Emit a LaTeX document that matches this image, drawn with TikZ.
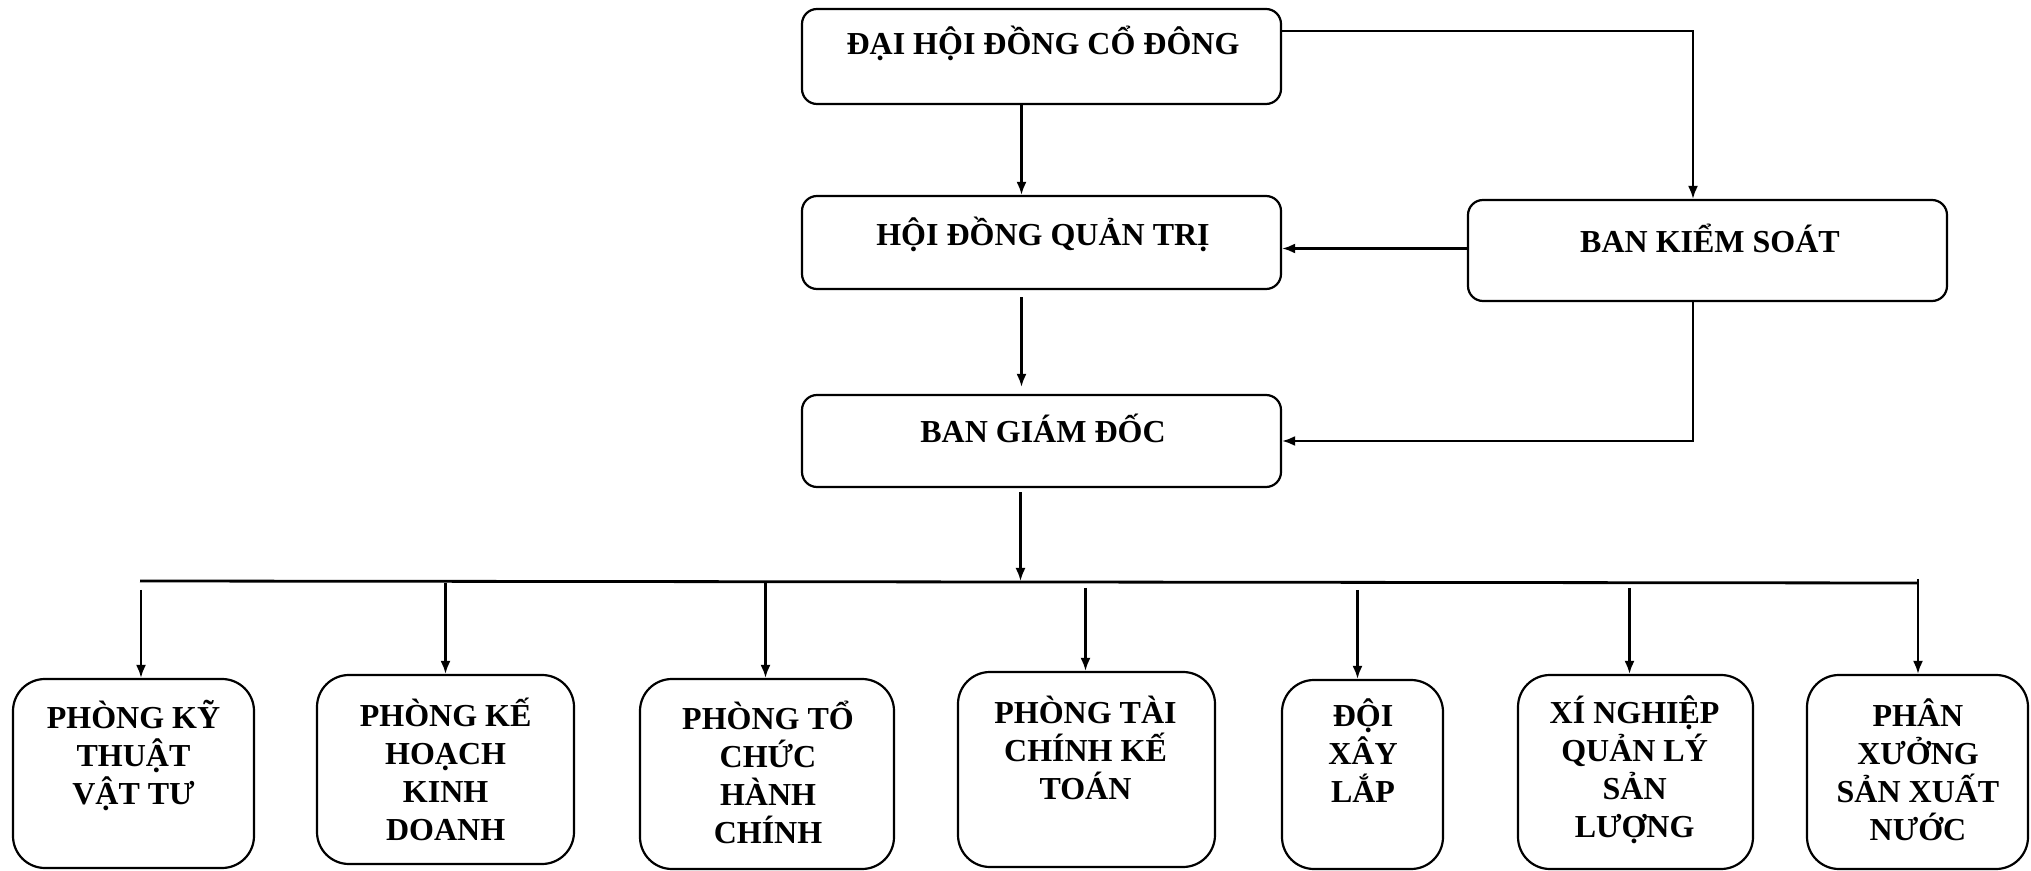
\documentclass[tikz,border=0pt]{standalone}
\usepackage{fontspec}
\setmainfont{Liberation Serif}
\usetikzlibrary{arrows.meta}
\begin{document}
\begin{tikzpicture}[x=0.5pt,y=-0.5pt,
  topbox/.style={draw, line width=1.1pt, rounded corners=7.5pt, minimum width=239.5pt, inner sep=0pt},
  botbox/.style={draw, line width=1.1pt, rounded corners=16pt, inner sep=0pt},
  lbl/.style={font=\bfseries\fontsize{16}{19}\selectfont, align=center, inner sep=0pt},
  arr/.style={line width=1.1pt, -{Latex[length=6.5pt,width=5pt]}},
  conn/.style={line width=1.1pt}]
\useasboundingbox (0,0) rectangle (2031,871);
% top level boxes
\node[topbox, minimum height=47.5pt] (dh) at (1041.5,56.5) {};
\node[topbox, minimum height=46.5pt] (hd) at (1041.5,242.5) {};
\node[topbox, minimum height=46pt] (bgd) at (1041.5,441) {};
\node[topbox, minimum height=50.5pt] (bks) at (1707.5,250.5) {};
\node[lbl] at (1043,43) {ĐẠI HỘI ĐỒNG CỔ ĐÔNG};
\node[lbl] at (1043,234.5) {HỘI ĐỒNG QUẢN TRỊ};
\node[lbl] at (1043,428.7) {BAN GIÁM ĐỐC};
\node[lbl] at (1710,238) {BAN KIỂM SOÁT};
% bottom boxes
\node[botbox, minimum width=120.5pt, minimum height=94.5pt] (b1) at (133.5,773.5) {};
\node[botbox, minimum width=128.5pt, minimum height=94.5pt] (b2) at (445.5,769.5) {};
\node[botbox, minimum width=127pt, minimum height=95pt] (b3) at (767,774) {};
\node[botbox, minimum width=128.5pt, minimum height=97.5pt] (b4) at (1086.5,769.5) {};
\node[botbox, minimum width=80.5pt, minimum height=94.5pt] (b5) at (1362.5,774.5) {};
\node[botbox, minimum width=117.5pt, minimum height=97pt] (b6) at (1635.5,772) {};
\node[botbox, minimum width=110.5pt, minimum height=97pt] (b7) at (1917.5,772) {};
\node[lbl] at (133.5,755) {PHÒNG KỸ\\THUẬT\\VẬT TƯ};
\node[lbl] at (445.6,769) {PHÒNG KẾ\\HOẠCH\\KINH\\DOANH};
\node[lbl] at (768,772.6) {PHÒNG TỔ\\CHỨC\\HÀNH\\CHÍNH};
\node[lbl] at (1085.5,748) {PHÒNG TÀI\\CHÍNH KẾ\\TOÁN};
\node[lbl] at (1363,751) {ĐỘI\\XÂY\\LẮP};
\node[lbl] at (1634.6,770) {XÍ NGHIỆP\\QUẢN LÝ\\SẢN\\LƯỢNG};
\node[lbl] at (1918,770) {PHÂN\\XƯỞNG\\SẢN XUẤT\\NƯỚC};
% connectors top
\draw[arr] ([xshift=-10pt]dh.south) -- ([xshift=-10pt]hd.north);
\draw[arr, shorten <=3.5pt, shorten >=3.5pt] ([xshift=-10pt]hd.south) -- ([xshift=-10pt]bgd.north);
\draw[arr] ([yshift=12.75pt]dh.east) -| ([xshift=-7.25pt]bks.north);
\draw[arr] ([yshift=1pt]bks.west) -- ([yshift=1pt]bks.west -| hd.east);
\draw[arr] ([xshift=-7.25pt]bks.south) |- (bgd.east);
% bus
\coordinate (busL) at (140,581);
\coordinate (busR) at (1918,583);
\draw[line width=1.4pt] (busL) -- (busR);
\draw[arr, shorten <=2pt] ([xshift=-10.5pt]bgd.south) -- ([xshift=-10.5pt]bgd.south |- busL);
% bottom arrows
\draw[arr, shorten <=4.5pt] ([xshift=3.75pt]b1.north |- busL) -- ([xshift=3.75pt]b1.north);
\draw[arr, shorten <=1pt] (b2.north |- busL) -- (b2.north);
\draw[arr, shorten <=1pt] ([xshift=-0.75pt]b3.north |- busL) -- ([xshift=-0.75pt]b3.north);
\draw[arr, shorten <=3.5pt] ([xshift=-0.5pt]b4.north |- busL) -- ([xshift=-0.5pt]b4.north);
\draw[arr, shorten <=4.5pt] ([xshift=-2.5pt]b5.north |- busL) -- ([xshift=-2.5pt]b5.north);
\draw[arr, shorten <=3.5pt] ([xshift=-3pt]b6.north |- busL) -- ([xshift=-3pt]b6.north);
\draw[arr] ([yshift=2pt]busR) -- (busR |- b7.north);
\end{tikzpicture}
\end{document}
